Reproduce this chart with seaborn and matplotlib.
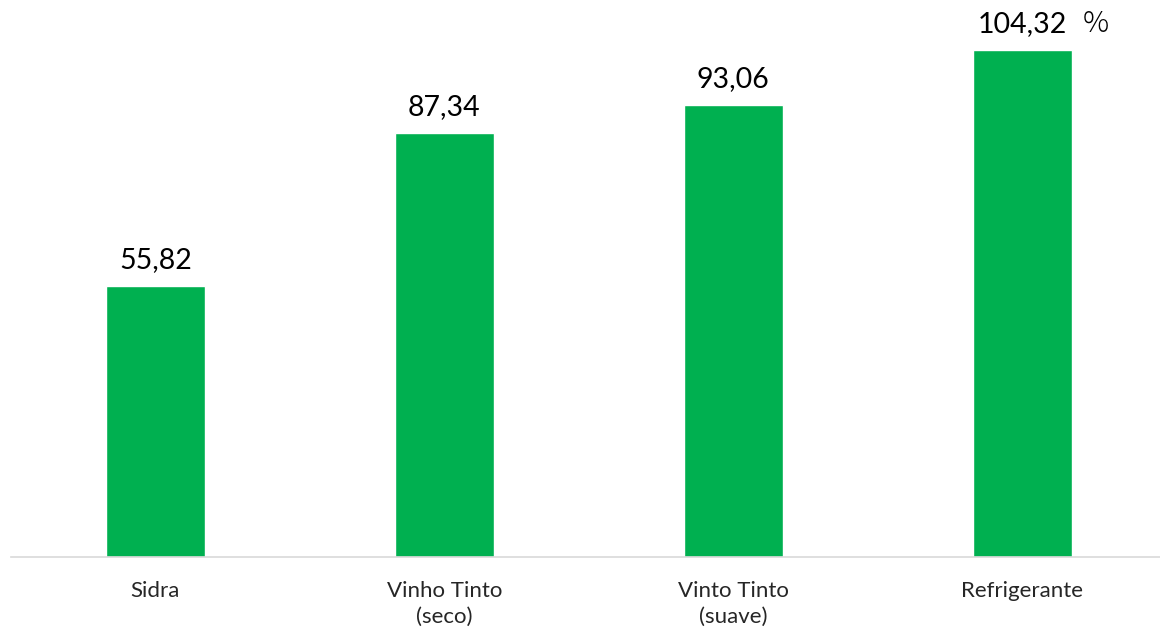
import matplotlib
matplotlib.use("Agg")
import matplotlib.pyplot as plt
import seaborn as sns
import pandas as pd

# Dados do gráfico
categorias = ["Sidra", "Vinho Tinto\n(seco)", "Vinto Tinto\n(suave)", "Refrigerante"]
valores = [55.82, 87.34, 93.06, 104.32]
rotulos = ["55,82", "87,34", "93,06", "104,32"]

df = pd.DataFrame({"categoria": categorias, "valor": valores})

sns.set_style("white")
plt.rcParams['font.family'] = ['Lato', 'DejaVu Sans']

fig = plt.figure(figsize=(11.6, 6.29), dpi=100)
ax = fig.add_axes([11 / 1160, 72 / 629, 1155.5 / 1160, 557 / 629])

sns.barplot(data=df, x="categoria", y="valor", color="#00B050", saturation=1,
            width=0.343, ax=ax)

ax.set_xlim(-0.5, 3.5)
ax.set_ylim(0, 114.7)

# rótulos de valores acima das barras
for i, (v, r) in enumerate(zip(valores, rotulos)):
    ax.annotate(r, xy=(i, v), xytext=(0, 9.5), textcoords="offset points",
                ha="center", va="bottom", fontsize=20.5, color="#000000")

# símbolo de porcentagem ao lado do último rótulo
ax.annotate("%", xy=(3, valores[-1]), xytext=(53, 8.5), textcoords="offset points",
            ha="center", va="bottom", fontsize=21, color="#000000",
            family=['Noto Sans CJK JP', 'DejaVu Sans'], fontweight="light")

ax.set_xlabel("")
ax.set_ylabel("")
ax.set_yticks([])
ax.tick_params(axis="x", length=0, pad=17, labelsize=16)
for lbl in ax.get_xticklabels():
    lbl.set_linespacing(1.4)

for s in ["top", "right", "left"]:
    ax.spines[s].set_visible(False)
ax.spines["bottom"].set_color("#D9D9D9")
ax.spines["bottom"].set_linewidth(1.2)

fig.savefig("out.png", dpi=100)
